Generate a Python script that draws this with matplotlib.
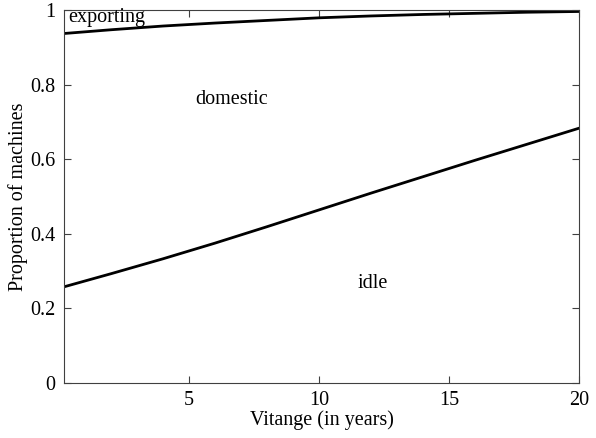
import numpy as np
import matplotlib.pyplot as plt

# vintage (years) and boundaries between the three machine states
vintage = [0.2, 2, 4, 6, 8, 10, 12, 14, 16, 18, 20]
idle_upper = [0.258, 0.293, 0.333, 0.375, 0.419, 0.464, 0.509, 0.553, 0.597, 0.640, 0.683]
domestic_upper = [0.937, 0.947, 0.957, 0.965, 0.972, 0.979, 0.984, 0.988, 0.991, 0.994, 0.996]

x_ticks = [5, 10, 15, 20]
y_ticks = [0, 0.2, 0.4, 0.6, 0.8, 1]

plt.rcParams['font.family'] = ['Liberation Serif', 'DejaVu Serif']
fs = 14.5

fig = plt.figure(figsize=(5.96, 4.38), dpi=100)
ax = fig.add_axes([0.1074, 0.1256, 0.864, 0.8516])

ax.plot(vintage, domestic_upper, color='black', lw=2.0)
ax.plot(vintage, idle_upper, color='black', lw=2.0)

ax.text(0.35, 0.979, 'exporting', fontsize=fs, va='center', ha='left')
ax.text(5.23, 0.761, 'domestic', fontsize=fs, va='center', ha='left')
ax.text(11.5, 0.268, 'idle', fontsize=fs, va='center', ha='left')

ax.set_xlim(0.19, 20)
ax.set_ylim(0, 1)
ax.set_xticks(x_ticks)
ax.set_yticks(y_ticks)
ax.set_yticklabels(['0', '0.2', '0.4', '0.6', '0.8', '1'])
ax.tick_params(direction='in', top=True, right=True, length=5, width=0.8,
               labelsize=fs, color='#404040', pad=6)
for sp in ax.spines.values():
    sp.set_color('#404040')
    sp.set_linewidth(0.8)

ax.set_xlabel('Vitange (in years)', fontsize=fs, labelpad=0)
ax.set_ylabel('Proportion of machines', fontsize=fs, labelpad=2)

fig.savefig('out.png', dpi=100)
